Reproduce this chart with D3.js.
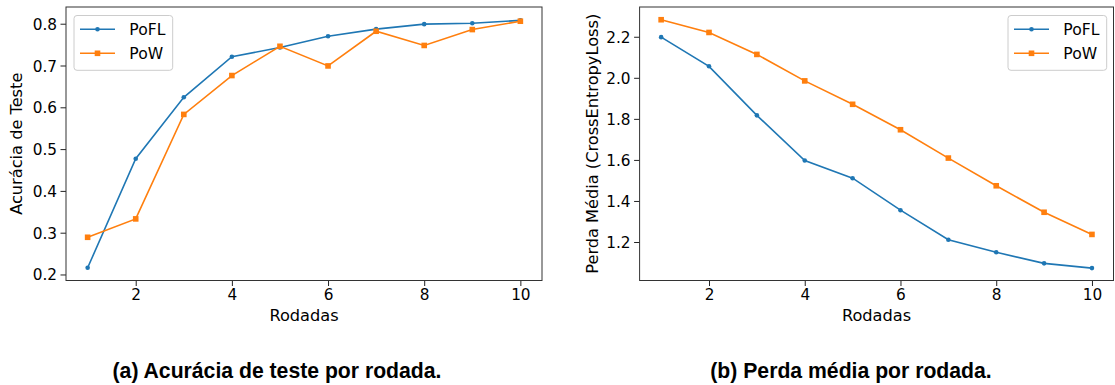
<!DOCTYPE html>
<html>
<head>
<meta charset="utf-8">
<script src="https://cdn.jsdelivr.net/npm/d3@7"></script>
<style>
  body { margin: 0; background: #fff; }
  svg { display: block; }
  .tick text { font-family: "DejaVu Sans", sans-serif; font-size: 15.3px; fill: #000; }
</style>
</head>
<body>
<svg id="chart" width="1115" height="385"></svg>
<script>
const rounds = [1, 2, 3, 4, 5, 6, 7, 8, 9, 10];
const xTicks = [2, 4, 6, 8, 10];

const poflAcc = [0.216, 0.477, 0.624, 0.721, 0.743, 0.770, 0.787, 0.799, 0.801, 0.808];
const powAcc = [0.289, 0.333, 0.583, 0.676, 0.746, 0.699, 0.782, 0.748, 0.786, 0.806];
const accTicks = [0.2, 0.3, 0.4, 0.5, 0.6, 0.7, 0.8];

const poflLoss = [2.198, 2.056, 1.817, 1.597, 1.511, 1.355, 1.211, 1.150, 1.096, 1.073];
const powLoss = [2.283, 2.221, 2.114, 1.985, 1.871, 1.747, 1.609, 1.474, 1.345, 1.237];
const lossTicks = [1.2, 1.4, 1.6, 1.8, 2.0, 2.2];

const seriesNames = ['PoFL', 'PoW'];
const colors = ['#1f77b4', '#ff7f0e'];

const svg = d3.select('#chart');

function drawPanel(opts) {
  const x = d3.scaleLinear().domain([0.55, 10.45]).range([opts.left, opts.right]);
  const y = d3.scaleLinear().domain(opts.yDomain).range([280.5, 7]);
  const g = svg.append('g');

  // axes
  g.append('g')
    .attr('transform', 'translate(0,280.5)')
    .call(d3.axisBottom(x).tickValues(xTicks).tickFormat(d3.format('d')).tickSize(5.5).tickPadding(3.5))
    .call(a => a.select('.domain').remove())
    .call(a => a.selectAll('line').attr('stroke', '#222'));

  g.append('g')
    .attr('transform', `translate(${opts.left},0)`)
    .call(d3.axisLeft(y).tickValues(opts.yTicks).tickFormat(d3.format('.1f')).tickSize(5.5).tickPadding(3.5))
    .call(a => a.select('.domain').remove())
    .call(a => a.selectAll('line').attr('stroke', '#222'))
    .call(a => a.selectAll('text').attr('dy', '0.36em'));

  // series
  const line = d3.line().x((d, i) => x(rounds[i])).y(d => y(d));
  opts.series.forEach((vals, s) => {
    g.append('path')
      .datum(vals)
      .attr('fill', 'none')
      .attr('stroke', colors[s])
      .attr('stroke-width', 1.6)
      .attr('d', line);
    if (s === 0) {
      g.selectAll(null).data(vals).enter().append('circle')
        .attr('cx', (d, i) => x(rounds[i]))
        .attr('cy', d => y(d))
        .attr('r', 2.3)
        .attr('fill', colors[s]);
    } else {
      g.selectAll(null).data(vals).enter().append('rect')
        .attr('x', (d, i) => x(rounds[i]) - 2.8)
        .attr('y', d => y(d) - 2.8)
        .attr('width', 5.6)
        .attr('height', 5.6)
        .attr('fill', colors[s]);
    }
  });

  // frame
  g.append('rect')
    .attr('x', opts.left).attr('y', 7)
    .attr('width', opts.right - opts.left).attr('height', 273.5)
    .attr('fill', 'none').attr('stroke', '#333').attr('stroke-width', 1);

  // axis labels
  g.append('text')
    .attr('x', (opts.left + opts.right) / 2).attr('y', 321)
    .attr('text-anchor', 'middle')
    .style('font-family', '"DejaVu Sans", sans-serif').style('font-size', '16.2px')
    .text('Rodadas');

  g.append('text')
    .attr('transform', `translate(${opts.yLabelX},143.75) rotate(-90)`)
    .attr('text-anchor', 'middle')
    .style('font-family', '"DejaVu Sans", sans-serif').style('font-size', '16.2px')
    .text(opts.yLabel);

  // legend
  const lg = g.append('g').attr('transform', `translate(${opts.legendX},15.5)`);
  lg.append('rect')
    .attr('width', 98.7).attr('height', 54.8).attr('rx', 3)
    .attr('fill', '#fff').attr('fill-opacity', 0.8)
    .attr('stroke', '#ccc').attr('stroke-width', 1);
  seriesNames.forEach((name, s) => {
    const yy = 13.8 + s * 24;
    lg.append('line')
      .attr('x1', 6).attr('x2', 41).attr('y1', yy).attr('y2', yy)
      .attr('stroke', colors[s]).attr('stroke-width', 1.6);
    if (s === 0) {
      lg.append('circle').attr('cx', 23.5).attr('cy', yy).attr('r', 2.3).attr('fill', colors[s]);
    } else {
      lg.append('rect').attr('x', 20.7).attr('y', yy - 2.8).attr('width', 5.6).attr('height', 5.6).attr('fill', colors[s]);
    }
    lg.append('text')
      .attr('x', 55.3).attr('y', yy + 5.6)
      .style('font-family', '"DejaVu Sans", sans-serif').style('font-size', '15.6px')
      .text(name);
  });

  // caption
  svg.append('text')
    .attr('x', opts.captionX).attr('y', 378)
    .attr('text-anchor', 'middle')
    .style('font-family', '"Liberation Sans", Arial, sans-serif')
    .style('font-weight', 'bold').style('font-size', '21.2px')
    .text(opts.caption);
}

drawPanel({
  left: 66, right: 542,
  yDomain: [0.1856, 0.840], yTicks: accTicks,
  series: [poflAcc, powAcc],
  yLabel: 'Acurácia de Teste', yLabelX: 22,
  legendX: 74,
  caption: '(a) Acurácia de teste por rodada.', captionX: 277
});

drawPanel({
  left: 639.6, right: 1113.5,
  yDomain: [1.0125, 2.345], yTicks: lossTicks,
  series: [poflLoss, powLoss],
  yLabel: 'Perda Média (CrossEntropyLoss)', yLabelX: 598,
  legendX: 1008,
  caption: '(b) Perda média por rodada.', captionX: 851
});
</script>
</body>
</html>
